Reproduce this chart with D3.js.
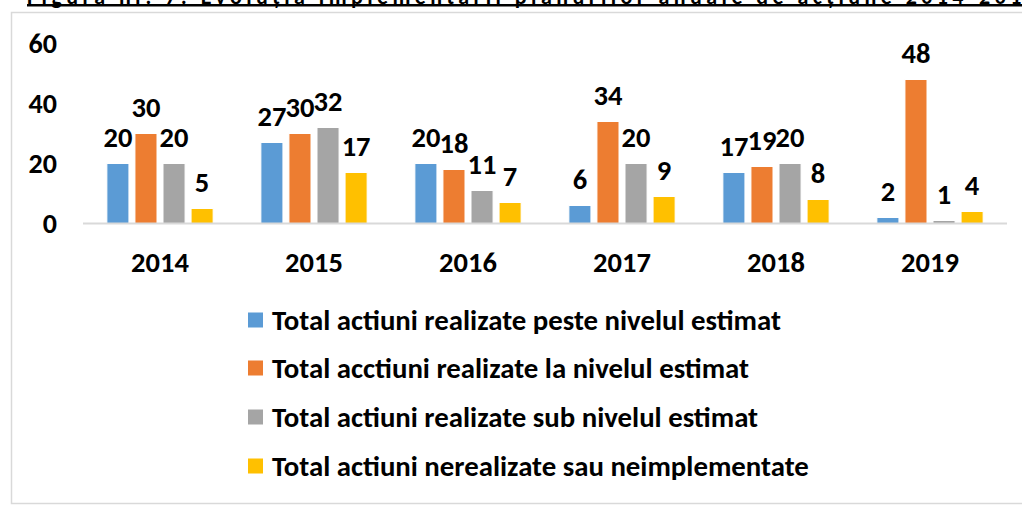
<!DOCTYPE html>
<html>
<head>
<meta charset="utf-8">
<script src="https://cdn.jsdelivr.net/npm/d3@7"></script>
<style>
  body { margin: 0; background: #fff; }
  svg { display: block; font-family: Carlito, Calibri, Lato, sans-serif; font-weight: bold; }
</style>
</head>
<body>
<div id="chart"></div>
<script>
// values
const years = ["2014", "2015", "2016", "2017", "2018", "2019"];
const seriesNames = [
  "Total actiuni realizate peste nivelul estimat",
  "Total acctiuni realizate la nivelul estimat",
  "Total actiuni realizate sub nivelul estimat",
  "Total actiuni nerealizate sau neimplementate"
];
const peste = [20, 27, 20, 6, 17, 2];
const la = [30, 30, 18, 34, 19, 48];
const sub = [20, 32, 11, 20, 20, 1];
const nerealizate = [5, 17, 7, 9, 8, 4];
const yTicks = [0, 20, 40, 60];
const colors = ["#5B9BD5", "#ED7D31", "#A5A5A5", "#FFC000"];

const series = [peste, la, sub, nerealizate];
const width = 1022, height = 505;

const svg = d3.select("#chart").append("svg")
  .attr("width", width)
  .attr("height", height);

// figure caption, cut off at the top edge like in the source
svg.append("text")
  .attr("x", 27)
  .attr("y", 3.5)
  .attr("font-size", 22)
  .attr("textLength", 1010)
  .text("Figura nr. 7: Evoluția implementării planurilor anuale de acțiune 2014-2019");
svg.append("rect")
  .attr("x", 27).attr("y", 4)
  .attr("width", width - 27).attr("height", 2.5)
  .attr("fill", "#000");

// chart box border
svg.append("path")
  .attr("d", `M${width},12.5 H11.5 V503.5 H${width}`)
  .attr("fill", "none")
  .attr("stroke", "#d9d9d9")
  .attr("stroke-width", 1.5);

const x0 = d3.scaleBand().domain(years).range([83, 1007])
  .paddingInner(0.31).paddingOuter(0.155);
const x1 = d3.scaleBand().domain(d3.range(series.length)).range([0, x0.bandwidth()])
  .paddingInner(0.214);
const y = d3.scaleLinear().domain([0, 60]).range([223.5, 43.5]);

// y axis: labels only
svg.append("g")
  .attr("transform", "translate(83,0)")
  .call(d3.axisLeft(y).tickValues(yTicks).tickSize(0).tickPadding(26))
  .call(g => g.select(".domain").remove())
  .selectAll("text")
  .attr("font-size", 28)
  .attr("fill", "#000");

const groups = svg.append("g")
  .selectAll("g")
  .data(years)
  .join("g")
  .attr("transform", d => `translate(${x0(d)},0)`);

const cells = groups.selectAll("g")
  .data((yr, i) => series.map((s, k) => ({ k: k, v: s[i] })))
  .join("g");

cells.append("rect")
  .attr("x", d => x1(d.k))
  .attr("y", d => y(d.v))
  .attr("width", x1.bandwidth())
  .attr("height", d => y(0) - y(d.v))
  .attr("fill", d => colors[d.k])
  .attr("stroke", "#fff")
  .attr("stroke-width", 1);

cells.append("text")
  .attr("x", d => x1(d.k) + x1.bandwidth() / 2)
  .attr("y", d => y(d.v) - 17)
  .attr("text-anchor", "middle")
  .attr("font-size", 28.5)
  .text(d => d.v);

// x axis line + year labels
svg.append("line")
  .attr("x1", 83).attr("x2", 1007)
  .attr("y1", y(0)).attr("y2", y(0))
  .attr("stroke", "#d9d9d9")
  .attr("stroke-width", 2);

svg.append("g")
  .attr("transform", `translate(0,${y(0)})`)
  .call(d3.axisBottom(x0).tickSize(0).tickPadding(28))
  .call(g => g.select(".domain").remove())
  .selectAll("text")
  .attr("font-size", 28.5)
  .attr("fill", "#000");

// let the axis text inherit the svg font
svg.selectAll("g[font-family]").attr("font-family", null).attr("font-size", null);

// legend
const legendY = [320, 368, 417, 466];
const legend = svg.append("g")
  .selectAll("g")
  .data(seriesNames)
  .join("g")
  .attr("transform", (d, i) => `translate(248,${legendY[i]})`);

legend.append("rect")
  .attr("x", 0).attr("y", -7.5)
  .attr("width", 15).attr("height", 15)
  .attr("fill", (d, i) => colors[i]);

legend.append("text")
  .attr("x", 24)
  .attr("y", 10)
  .attr("font-size", 28.8)
  .text(d => d);
</script>
</body>
</html>
